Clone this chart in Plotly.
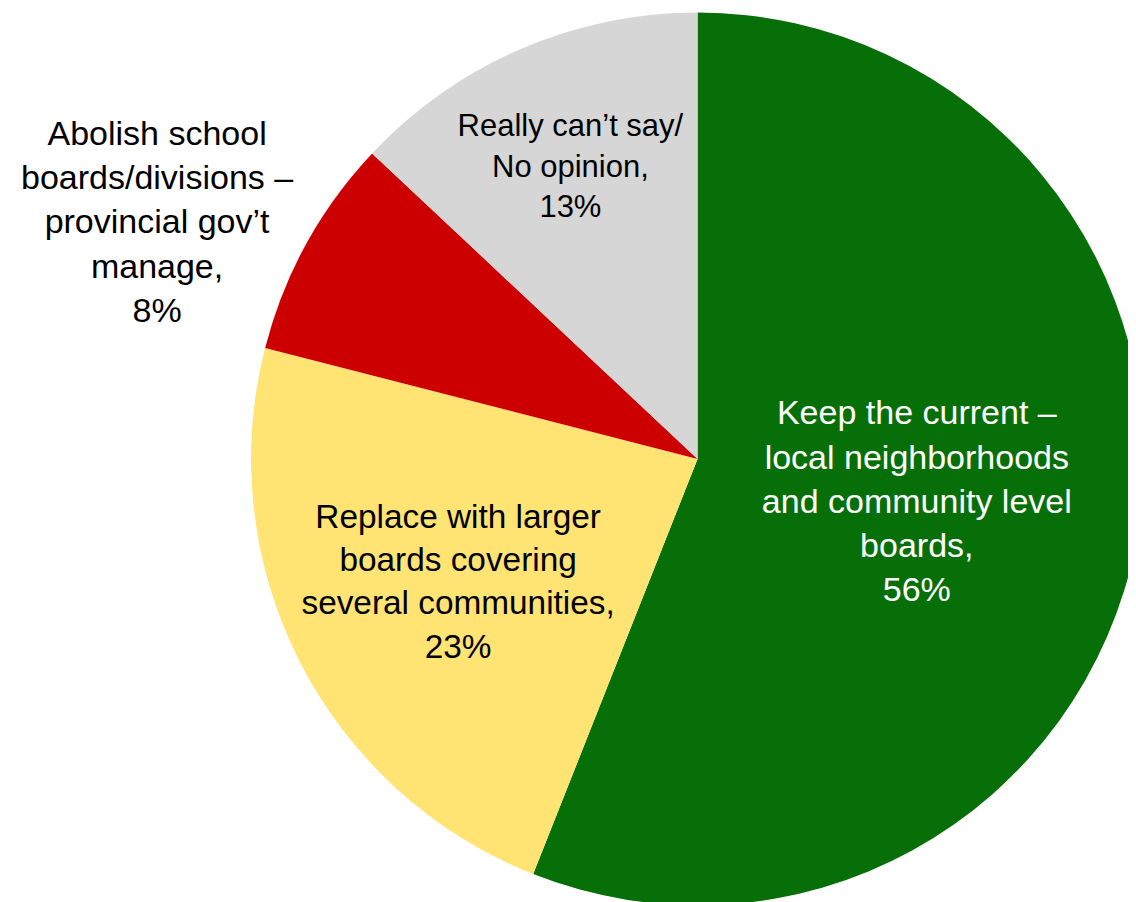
import plotly.graph_objects as go

labels = [
    "Keep the current –<br>local neighborhoods<br>and community level<br>boards,",
    "Replace with larger<br>boards covering<br>several communities,",
    "Abolish school<br>boards/divisions –<br>provincial gov’t<br>manage,",
    "Really can’t say/<br>No opinion,",
]
values = [56, 23, 8, 13]
colors = ["#076F07", "#FFE373", "#CC0000", "#D6D6D6"]
text_colors = ["#FFFFFF", "#000000", "#000000", "#000000"]
positions = ["inside", "inside", "none", "inside"]

fig = go.Figure(
    go.Pie(
        labels=labels,
        values=values,
        sort=False,
        direction="clockwise",
        rotation=0,
        marker=dict(colors=colors, line=dict(width=0)),
        texttemplate="%{label}<br>%{value}%",
        textposition=positions,
        insidetextorientation="horizontal",
        textfont=dict(family="Liberation Sans, Arial, sans-serif", size=34, color=text_colors),
        domain=dict(x=[0.214, 1.0], y=[0.0, 1.0]),
        showlegend=False,
        hoverinfo="label+percent",
    )
)

# label for the small red slice, placed outside like the reference
fig.add_annotation(
    x=0.131, y=0.763, xref="paper", yref="paper",
    xanchor="center", yanchor="middle",
    text=f"{labels[2]}<br>{values[2]}%",
    showarrow=False,
    font=dict(family="Liberation Sans, Arial, sans-serif", size=34, color="#000000"),
    align="center",
)

fig.update_layout(
    width=1136,
    height=902,
    margin=dict(l=0, r=0, t=0, b=0),
    paper_bgcolor="white",
    plot_bgcolor="white",
    font=dict(family="Liberation Sans, Arial, sans-serif"),
)

fig.write_html("out.html")
